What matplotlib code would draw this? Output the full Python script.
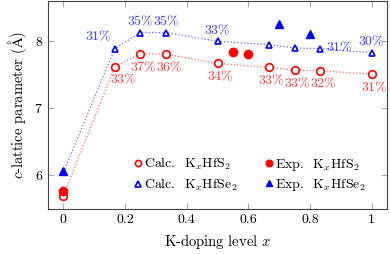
import numpy as np
import matplotlib
matplotlib.use("Agg")
import matplotlib.pyplot as plt

plt.rcParams["font.family"] = "serif"
plt.rcParams["font.serif"] = ["cmr10"]
plt.rcParams["mathtext.fontset"] = "cm"
plt.rcParams["axes.formatter.use_mathtext"] = True

# calculated values
x_calc = [0, 1/6, 1/4, 1/3, 1/2, 2/3, 3/4, 5/6, 1]
c_s2 = [5.70, 7.62, 7.81, 7.81, 7.67, 7.61, 7.57, 7.56, 7.51]
c_se2 = [6.05, 7.89, 8.13, 8.13, 8.00, 7.95, 7.90, 7.89, 7.83]
lab_s2 = ["", "33", "37", "36", "34", "33", "33", "32", "31"]
lab_se2 = ["", "31", "35", "35", "33", "", "", "31", "30"]

# experimental values
x_exp_s2 = [0, 0.55, 0.6]
e_s2 = [5.77, 7.84, 7.81]
x_exp_se2 = [0, 0.7, 0.8]
e_se2 = [6.07, 8.25, 8.11]

red = "#ff0000"
blue = "#0000ff"

fig = plt.figure(figsize=(3.9, 2.54), dpi=100)
ax = fig.add_axes([48/390, 45/254, 339/390, 208/254])

ax.plot(x_calc, c_s2, ":", color=red, alpha=0.6, lw=0.9, zorder=1)
ax.plot(x_calc, c_se2, ":", color=blue, alpha=0.6, lw=0.9, zorder=1)
h1, = ax.plot(x_calc, c_s2, "o", ls="none", mfc="white", mec=red, mew=1.2, ms=5.5, zorder=3)
h2, = ax.plot(x_calc, c_se2, "^", ls="none", mfc="white", mec=blue, mew=1.2, ms=5, zorder=3)
h3, = ax.plot(x_exp_s2, e_s2, "o", ls="none", color=red, ms=6, zorder=4)
h4, = ax.plot(x_exp_se2, e_se2, "^", ls="none", color=blue, ms=6, zorder=4)

# percentage labels
fs_lab = 10
for i, (xx, yy, t) in enumerate(zip(x_calc, c_s2, lab_s2)):
    if t:
        dx = 6 if i == 1 else 2
        ax.annotate(r"$%s\%%$" % t, (xx, yy), xytext=(dx, -4), textcoords="offset points",
                    ha="center", va="top", color=red, alpha=0.75, fontsize=fs_lab)
for i, (xx, yy, t) in enumerate(zip(x_calc, c_se2, lab_se2)):
    if not t:
        continue
    s = r"$%s\%%$" % t
    if i == 1:
        ax.annotate(s, (xx, yy), xytext=(-2, 4), textcoords="offset points",
                    ha="right", va="bottom", color=blue, alpha=0.75, fontsize=fs_lab)
    elif i == 7:
        ax.annotate(s, (xx, yy), xytext=(4, 1), textcoords="offset points",
                    ha="left", va="center", color=blue, alpha=0.75, fontsize=fs_lab)
    else:
        ax.annotate(s, (xx, yy), xytext=(0, 3), textcoords="offset points",
                    ha="center", va="bottom", color=blue, alpha=0.75, fontsize=fs_lab)

ax.set_xlim(-0.05, 1.05)
ax.set_ylim(5.5, 8.6)
ax.set_xticks([0, 0.2, 0.4, 0.6, 0.8, 1])
ax.set_xticklabels(["0", "0.2", "0.4", "0.6", "0.8", "1"])
ax.set_yticks([6, 7, 8])
ax.tick_params(direction="in", top=True, right=True, length=4, color="#aaaaaa", labelsize=10)
for s in ax.spines.values():
    s.set_color("#444444")

ax.set_xlabel(r"K-doping level $x$", fontsize=10.5)
ax.set_ylabel(r"$c$-lattice parameter ($\mathrm{\AA}$)", fontsize=10.5)

ax.legend([h1, h2, h3, h4],
          [r"Calc.  K$_x$HfS$_2$", r"Calc.  K$_x$HfSe$_2$", r"Exp.  K$_x$HfS$_2$", r"Exp.  K$_x$HfSe$_2$"],
          ncol=2, loc="lower right", frameon=False, fontsize=10, handlelength=0.5,
          handletextpad=0.2, columnspacing=2.0, labelspacing=0.3, markerscale=0.8,
          borderaxespad=0, bbox_to_anchor=(0.955, 0.05))

plt.savefig("out.png", dpi=100)
